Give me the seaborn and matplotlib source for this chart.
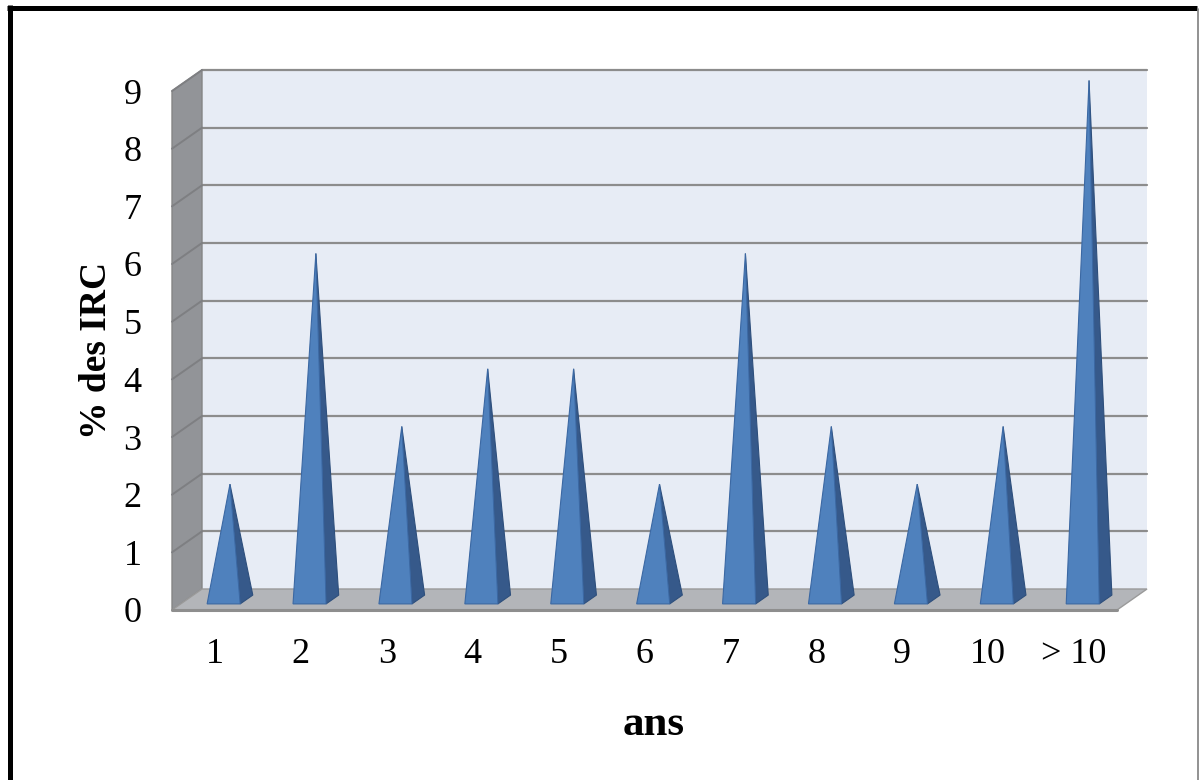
import matplotlib
matplotlib.use("Agg")
import matplotlib.pyplot as plt
from matplotlib.patches import Polygon
from matplotlib.lines import Line2D
import seaborn as sns

# Data: share of IRC cases by years
categories = ["1", "2", "3", "4", "5", "6", "7", "8", "9", "10", "> 10"]
values = [2, 6, 3, 4, 4, 2, 6, 3, 2, 3, 9]
y_ticks = list(range(0, 10))

sns.set_theme(style="white")
plt.rcParams["font.family"] = ["Liberation Serif", "DejaVu Serif"]
plt.rcParams["text.color"] = "black"
plt.rcParams["axes.labelcolor"] = "black"

W, H = 1199, 780
fig = plt.figure(figsize=(W / 100, H / 100), dpi=100)
fig.patch.set_facecolor("white")

# front plane of the 3-D box
left_px, right_px, bottom_px, top_px = 172, 1117, 610, 91
ax = fig.add_axes([left_px / W, (H - bottom_px) / H,
                   (right_px - left_px) / W, (bottom_px - top_px) / H])
ax.set_xlim(-0.5, len(categories) - 0.5)
ax.set_ylim(0, 9)
ax.set_facecolor("none")
sns.despine(ax=ax, left=True, bottom=True)

# oblique depth offset in data units (30 px right, 21 px up)
ux = (right_px - left_px) / len(categories)
uy = (bottom_px - top_px) / 9
DX, DY = 30 / ux, 21 / uy


def proj(x, y, d):
    return (x + d * DX, y + d * DY)


x0, x1 = -0.5, len(categories) - 0.5
ymax = 9

wall_col = "#E7ECF5"
side_col = "#929498"
floor_col = "#B3B5B9"
grid_col = "#8C8C8C"

# back wall
ax.add_patch(Polygon([proj(x0, 0, 1), proj(x1, 0, 1), proj(x1, ymax, 1), proj(x0, ymax, 1)],
                     closed=True, facecolor=wall_col, edgecolor="none", clip_on=False, zorder=1))
for v in y_ticks[1:]:
    a, b = proj(x0, v, 1), proj(x1, v, 1)
    ax.add_line(Line2D([a[0], b[0]], [a[1], b[1]], color=grid_col, lw=1.6, clip_on=False, zorder=2))

# left side wall
ax.add_patch(Polygon([proj(x0, 0, 0), proj(x0, 0, 1), proj(x0, ymax, 1), proj(x0, ymax, 0)],
                     closed=True, facecolor=side_col, edgecolor="#858585", lw=1.0,
                     clip_on=False, zorder=3))
for v in y_ticks[1:]:
    a, b = proj(x0, v, 0), proj(x0, v, 1)
    ax.add_line(Line2D([a[0], b[0]], [a[1], b[1]], color="#7E7F82", lw=1.4, clip_on=False, zorder=4))

# floor
ax.add_patch(Polygon([proj(x0, 0, 0), proj(x1, 0, 0), proj(x1, 0, 1), proj(x0, 0, 1)],
                     closed=True, facecolor=floor_col, edgecolor="#9A9A9A", lw=1.0,
                     clip_on=False, zorder=5))
ax.add_line(Line2D([x0, x1], [0, 0], color="#8E8E8E", lw=2.2, clip_on=False, zorder=6))

# pyramids
front_col = "#4F81BD"
side_face_col = "#36598A"
hw, d_lo, d_hi = 0.1925, 0.29, 0.71
for i, v in enumerate(values):
    fl = proj(i - hw, 0, d_lo)
    fr = proj(i + hw, 0, d_lo)
    br = proj(i + hw, 0, d_hi)
    apex = proj(i, v, 0.5)
    ax.add_patch(Polygon([fr, br, apex], closed=True, facecolor=side_face_col,
                         edgecolor="#2E4F7C", lw=0.8, clip_on=False, zorder=7))
    ax.add_patch(Polygon([fl, fr, apex], closed=True, facecolor=front_col,
                         edgecolor="#3B68A3", lw=0.8, clip_on=False, zorder=8))

# ticks and labels
ax.set_xticks(range(len(categories)))
ax.set_xticklabels(categories)
ax.set_yticks(y_ticks)
ax.set_yticklabels([str(t) for t in y_ticks])
ax.tick_params(axis="both", length=0, labelsize=26, colors="black")
ax.tick_params(axis="y", pad=22)
ax.tick_params(axis="x", pad=20)
ax.grid(False)

ax.set_xlabel("ans", fontsize=31, fontweight="bold", va="center", color="black")
ax.xaxis.set_label_coords((654 - left_px) / (right_px - left_px),
                          (bottom_px - 725) / (bottom_px - top_px))
ax.set_ylabel("% des IRC", fontsize=27, fontweight="bold", va="center", rotation=90,
              color="black")
ax.yaxis.set_label_coords((97 - left_px) / (right_px - left_px),
                          (bottom_px - 350) / (bottom_px - top_px))

# outer frame
fig.add_artist(Line2D([7 / W, 1197 / W], [1 - 7.5 / H, 1 - 7.5 / H], color="black", lw=3.6,
                      transform=fig.transFigure, solid_capstyle="butt"))
fig.add_artist(Line2D([9.5 / W, 9.5 / W], [1 - 5 / H, 0], color="black", lw=3.6,
                      transform=fig.transFigure, solid_capstyle="butt"))
fig.add_artist(Line2D([1197.5 / W, 1197.5 / W], [1 - 9 / H, 0], color="#7F7F7F", lw=1.2,
                      transform=fig.transFigure))

fig.savefig("out.png", dpi=100, facecolor="white")
